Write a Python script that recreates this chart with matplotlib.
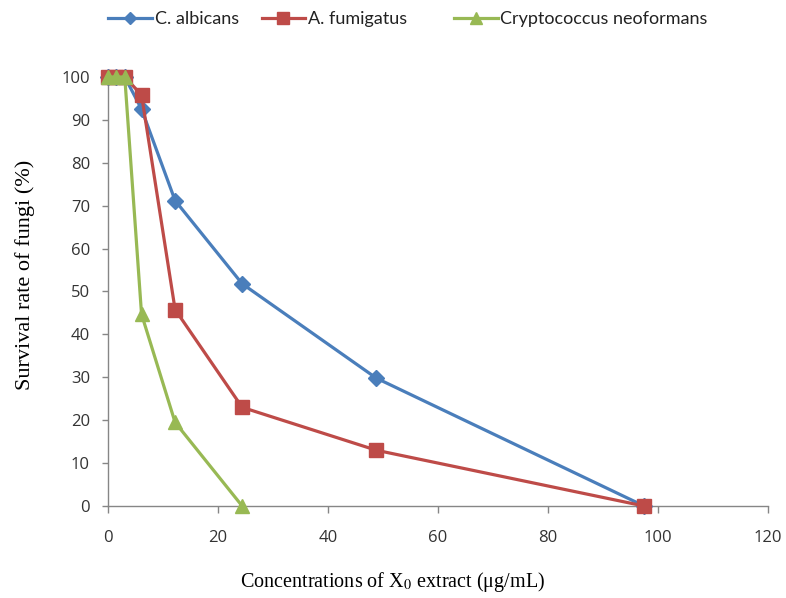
import matplotlib
matplotlib.use("Agg")
import matplotlib.pyplot as plt
from matplotlib.lines import Line2D

# Extract concentrations (ug/mL) and survival rates (%)
conc = [0, 1.52, 3.05, 6.1, 12.2, 24.4, 48.8, 97.5]
c_albicans = [100, 100, 100, 92.5, 71.2, 51.8, 29.8, 0]
a_fumigatus = [100, 100, 100, 95.8, 45.8, 23.0, 13.0, 0]
conc_crypto = [0, 1.52, 3.05, 6.1, 12.2, 24.4]
c_neoformans = [100, 100, 100, 44.7, 19.5, 0]

series_names = ["C. albicans", "A. fumigatus", "Cryptococcus neoformans"]
xticks = [0, 20, 40, 60, 80, 100, 120]
yticks = [0, 10, 20, 30, 40, 50, 60, 70, 80, 90, 100]

blue = "#4A7EBB"
red = "#BE4B48"
green = "#98B954"
axis_grey = "#868686"
tick_font = ["Open Sans", "DejaVu Sans"]
legend_font = ["Lato", "DejaVu Sans"]

fig = plt.figure(figsize=(7.86, 5.98), dpi=100)
ax = fig.add_axes([0.1374, 0.1538, 0.8396, 0.7175])

ax.plot(conc, c_albicans, color=blue, lw=2.3, marker="D", ms=8,
        mfc=blue, mec=blue, clip_on=False, zorder=3)
ax.plot(conc, a_fumigatus, color=red, lw=2.3, marker="s", ms=10,
        mfc=red, mec=red, clip_on=False, zorder=4)
ax.plot(conc_crypto, c_neoformans, color=green, lw=2.3, marker="^", ms=10,
        mfc=green, mec=green, clip_on=False, zorder=5)

ax.set_xlim(0, 120)
ax.set_ylim(0, 100)
ax.set_xticks(xticks)
ax.set_yticks(yticks)
for s in ["top", "right"]:
    ax.spines[s].set_visible(False)
for s in ["left", "bottom"]:
    ax.spines[s].set_color(axis_grey)
    ax.spines[s].set_linewidth(1.0)
ax.tick_params(axis="both", direction="out", width=1.0, color=axis_grey,
               labelcolor="#333333", labelsize=12)
ax.tick_params(axis="x", length=5, pad=12)
ax.tick_params(axis="y", length=4, pad=9)
for lab in ax.get_xticklabels() + ax.get_yticklabels():
    lab.set_family(tick_font)

fig.text(0.032, 0.54, "Survival rate of fungi (%)", family="Liberation Serif",
         fontsize=16, rotation=90, ha="center", va="center")
fig.text(0.5, 0.027, r"Concentrations of X$_0$ extract ($\mathregular{\mu}$g/mL)",
         family="Liberation Serif", fontsize=14.5, ha="center", va="center",
         math_fontfamily="stix")

handles = [
    Line2D([], [], color=blue, lw=2.3, marker="D", ms=6),
    Line2D([], [], color=red, lw=2.3, marker="s", ms=8),
    Line2D([], [], color=green, lw=2.3, marker="^", ms=8),
]
legend_x = [0.138, 0.333, 0.578]
for h, name, lx in zip(handles, series_names, legend_x):
    leg = fig.legend([h], [name], loc="center left", bbox_to_anchor=(lx, 0.968),
                     frameon=False, handlelength=2.4, handletextpad=0.15,
                     borderpad=0, borderaxespad=0,
                     prop={"family": legend_font, "size": 13})
    leg.get_texts()[0].set_color("#222222")

fig.savefig("out.png", dpi=100)
